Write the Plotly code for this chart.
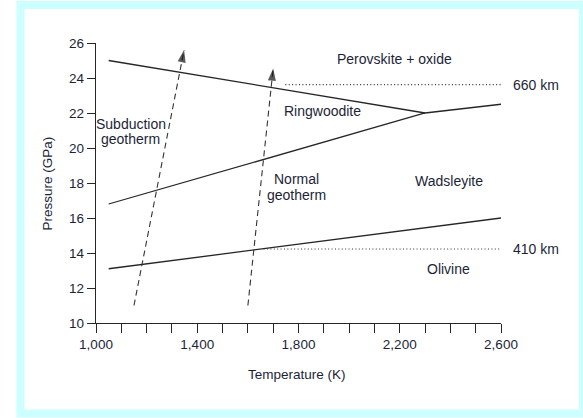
import plotly.graph_objects as go

# Phase boundaries: temperature (K) vs pressure (GPa)
pv_boundary_T = [1050, 2300]
pv_boundary_P = [25.0, 22.0]
rw_boundary_T = [1050, 2300, 2600]
rw_boundary_P = [16.8, 22.0, 22.5]
ol_boundary_T = [1050, 2600]
ol_boundary_P = [13.1, 16.0]

# Geotherms (start point, arrow tip)
subduction_T = [1150, 1348]
subduction_P = [11.0, 25.6]
normal_T = [1600, 1700]
normal_P = [11.0, 24.55]

# Seismic discontinuities
d660_T = [1748, 2600]
d660_P = [23.62, 23.62]
d410_T = [1662, 2600]
d410_P = [14.23, 14.23]
depth_labels = ["660 km", "410 km"]

# Phase / geotherm labels
region_texts = ["Perovskite + oxide", "Ringwoodite", "Subduction", "geotherm",
                "Normal", "geotherm", "Wadsleyite", "Olivine"]
region_T = [2179, 1893, 1137, 1137, 1792, 1792, 2393, 2392]
region_P = [25.10, 22.13, 21.37, 20.51, 18.23, 17.33, 18.09, 13.09]

# Axes
x_ticks = list(range(1000, 2700, 100))
x_tick_labels = [f"{v:,}" if (v - 1000) % 400 == 0 else "" for v in x_ticks]
y_ticks = list(range(10, 27, 2))

FONT = "Liberation Sans, Arial, Helvetica, sans-serif"
LINE = "#262626"
TEXT = "#1c1f38"

W, H = 583, 418
ML, MR, MT, MB = 96, 82, 43, 95
pw, ph = W - ML - MR, H - MT - MB


def px_x(p):
    return (p - ML) / pw


def px_y(p):
    return (H - MB - p) / ph


fig = go.Figure()

for T, P in [(pv_boundary_T, pv_boundary_P), (rw_boundary_T, rw_boundary_P),
             (ol_boundary_T, ol_boundary_P)]:
    fig.add_trace(go.Scatter(x=T, y=P, mode="lines",
                             line=dict(color=LINE, width=1.3),
                             hoverinfo="skip", showlegend=False))

for T, P in [(d660_T, d660_P), (d410_T, d410_P)]:
    fig.add_trace(go.Scatter(x=T, y=P, mode="lines",
                             line=dict(color="#333333", width=1.2, dash="1px,2.4px"),
                             hoverinfo="skip", showlegend=False))

for T, P in [(subduction_T, subduction_P), (normal_T, normal_P)]:
    fig.add_trace(go.Scatter(x=T, y=P, mode="lines",
                             line=dict(color="#333333", width=1.1, dash="6px,4px"),
                             hoverinfo="skip", showlegend=False))
    fig.add_trace(go.Scatter(x=T, y=P, mode="markers",
                             marker=dict(symbol="arrow", angleref="previous",
                                         size=[0, 13], color="#111111",
                                         line=dict(width=0)),
                             hoverinfo="skip", showlegend=False, cliponaxis=False))

for txt, T, P in zip(region_texts, region_T, region_P):
    fig.add_annotation(x=T, y=P, text=txt, showarrow=False,
                       xanchor="center", yanchor="middle",
                       font=dict(family=FONT, size=14, color=TEXT))

# Depth labels sit just right of the plotting area
for txt, P in zip(depth_labels, [d660_P[0], d410_P[0]]):
    fig.add_annotation(xref="paper", yref="y", x=px_x(511), y=P, text=txt,
                       showarrow=False, xanchor="left", yanchor="middle",
                       font=dict(family=FONT, size=14, color=TEXT))

# Axis titles
fig.add_annotation(xref="paper", yref="paper", x=px_x(297), y=px_y(374),
                   text="Temperature (K)", showarrow=False,
                   xanchor="center", yanchor="middle",
                   font=dict(family=FONT, size=13.5, color=TEXT))
fig.add_annotation(xref="paper", yref="paper", x=px_x(46.5), y=px_y(184),
                   text="Pressure (GPa)", showarrow=False, textangle=-90,
                   xanchor="center", yanchor="middle",
                   font=dict(family=FONT, size=13.5, color=TEXT))

# Light cyan frame around the figure
fig.add_shape(type="rect", xref="paper", yref="paper",
              x0=px_x(20.5), x1=px_x(583), y0=px_y(413.5), y1=px_y(5),
              line=dict(color="#ccffff", width=8), fillcolor="rgba(0,0,0,0)",
              layer="above")

fig.update_layout(
    width=W, height=H,
    margin=dict(l=ML, r=MR, t=MT, b=MB, pad=0),
    paper_bgcolor="white", plot_bgcolor="white",
    font=dict(family=FONT, size=13, color=TEXT),
    xaxis=dict(range=[1000, 2600], tickmode="array", tickvals=x_ticks,
               ticktext=x_tick_labels, ticks="outside", ticklen=9, tickwidth=1.3,
               tickcolor=LINE, showline=True, linecolor=LINE, linewidth=1.3,
               showgrid=False, zeroline=False, fixedrange=True,
               tickfont=dict(family=FONT, size=13.5, color=TEXT)),
    yaxis=dict(range=[10, 26], tickmode="array", tickvals=y_ticks,
               ticks="outside", ticklen=8, tickwidth=1.3, tickcolor=LINE,
               showline=True, linecolor=LINE, linewidth=1.3,
               showgrid=False, zeroline=False, fixedrange=True,
               tickfont=dict(family=FONT, size=13.5, color=TEXT)),
    showlegend=False,
)

fig.write_html("out.html")
